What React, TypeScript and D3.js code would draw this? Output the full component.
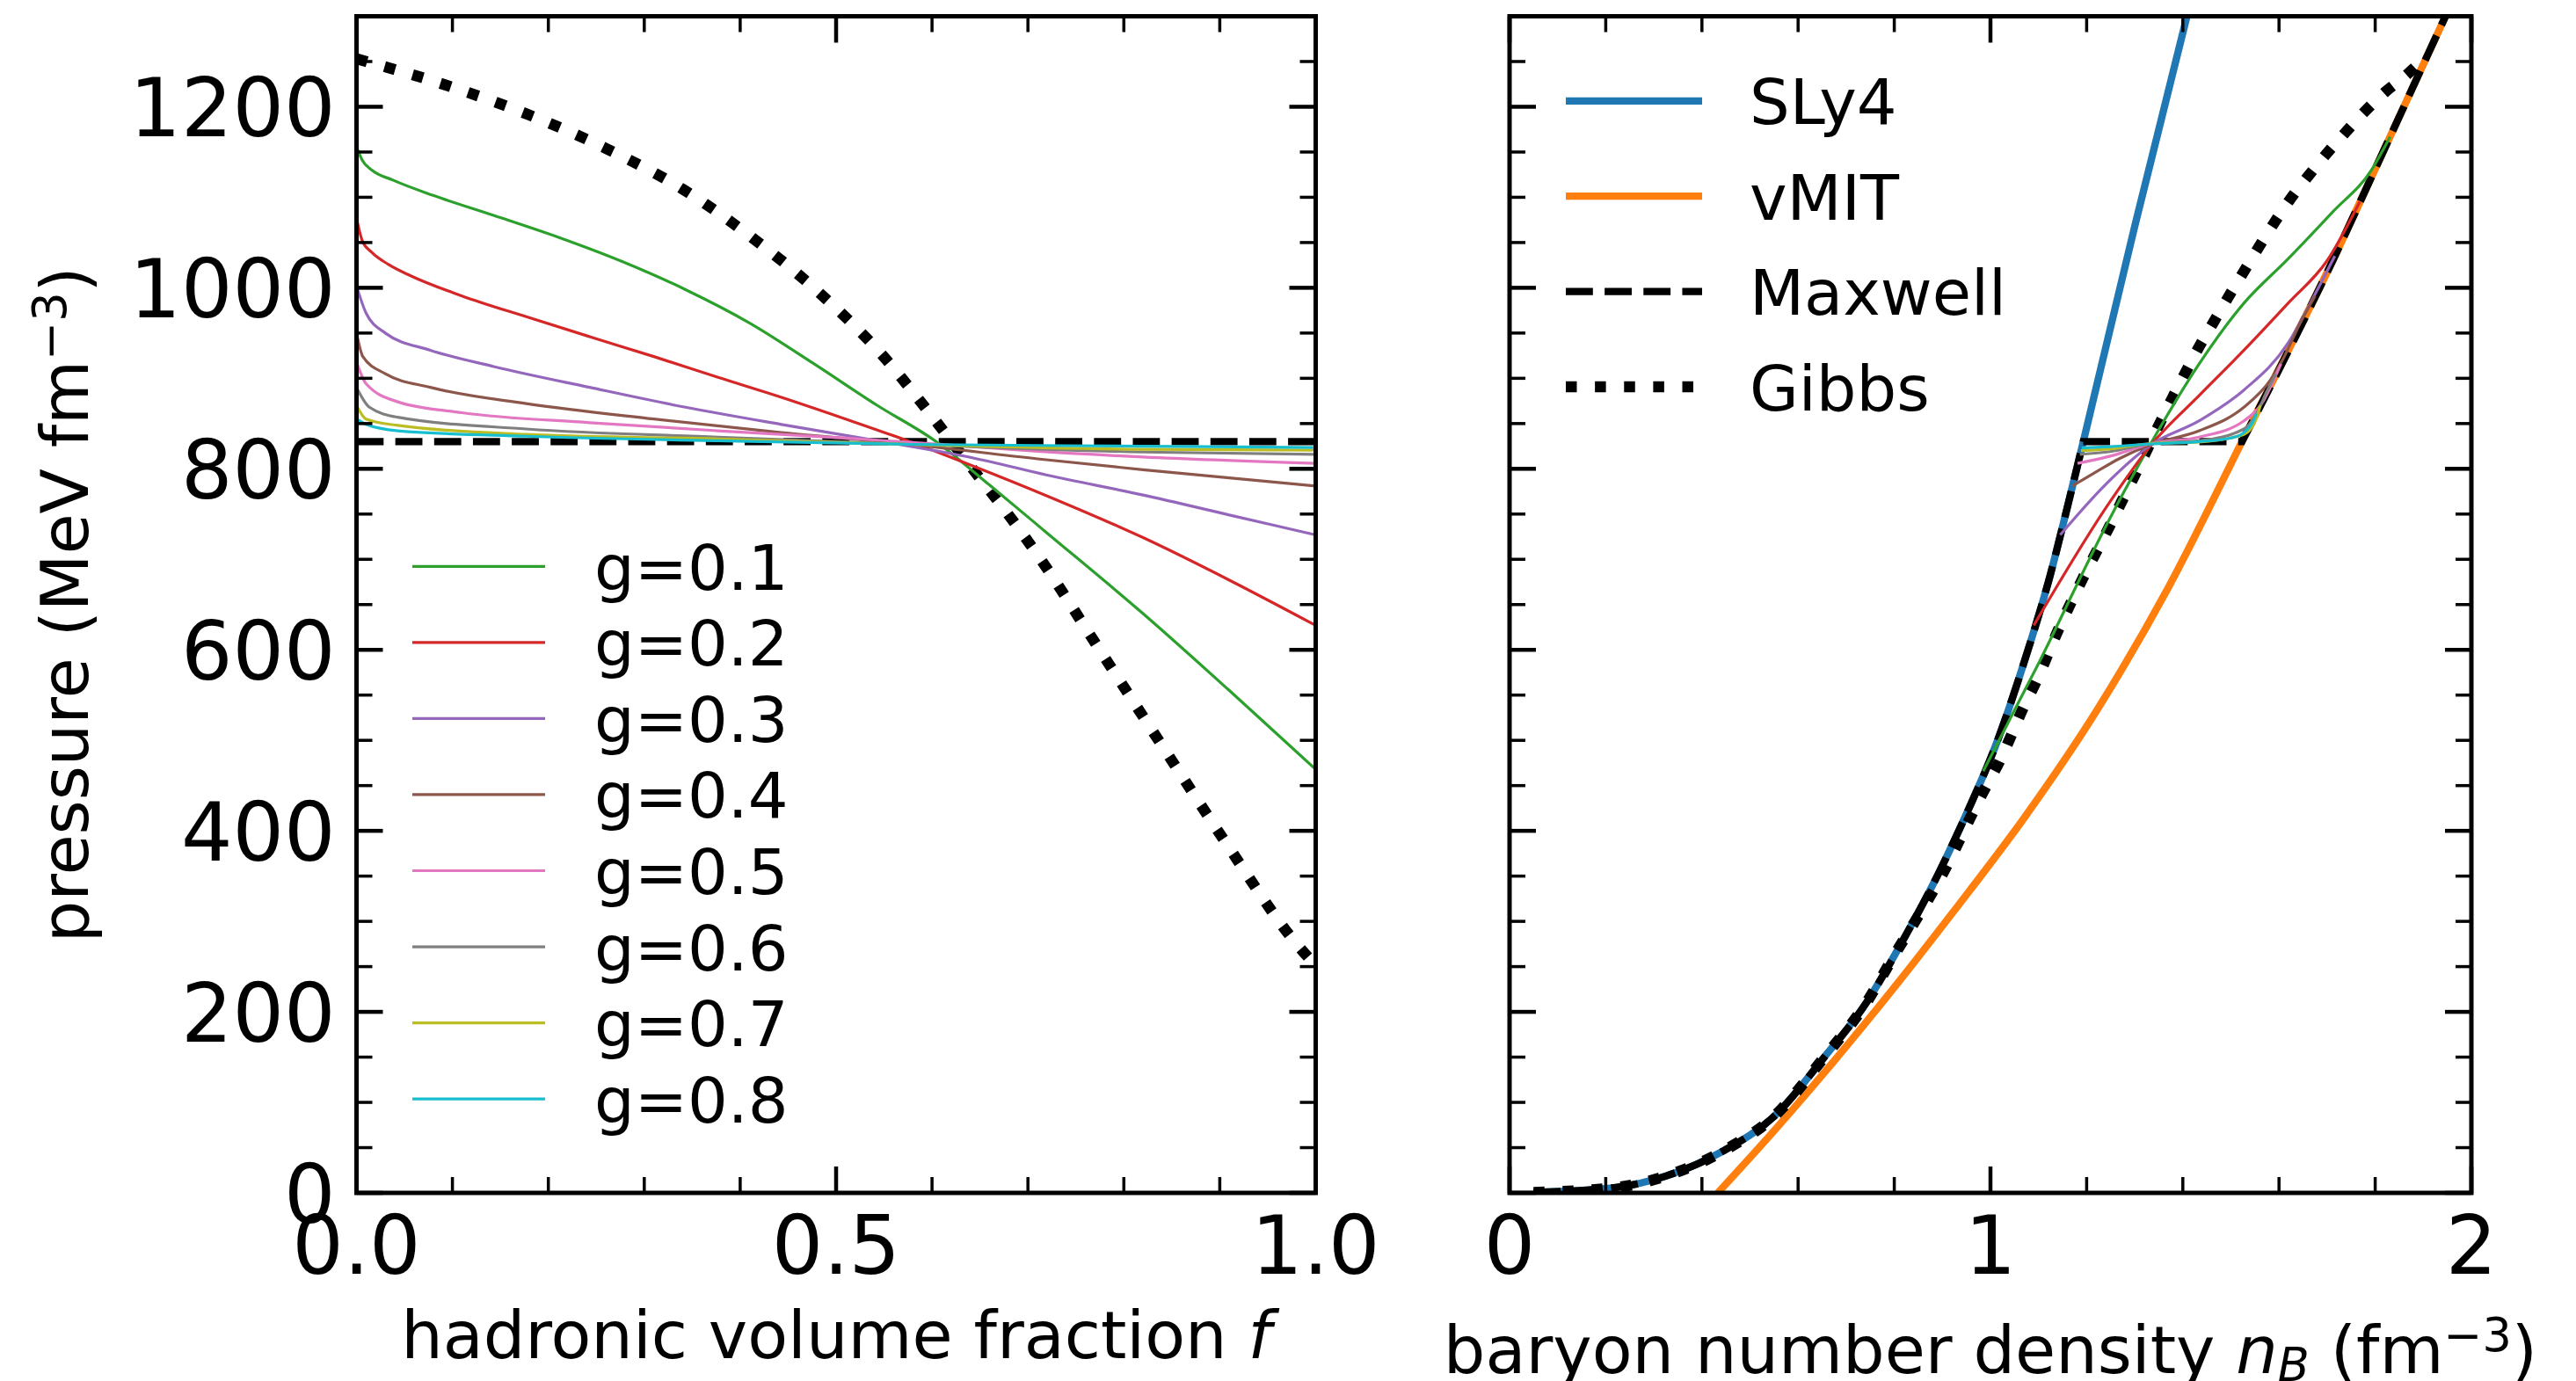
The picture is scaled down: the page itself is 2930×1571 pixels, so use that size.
import React from "react";
import * as d3 from "d3";

type Pt = [number, number];

// ---------- data: left panel (f, pressure) ----------
const gLabels = ["g=0.1", "g=0.2", "g=0.3", "g=0.4", "g=0.5", "g=0.6", "g=0.7", "g=0.8"];
const gColors = ["#2ca02c", "#d62728", "#9467bd", "#8c564b", "#e377c2", "#7f7f7f", "#bcbd22", "#17becf"];

const g1Left: Pt[] = [[0,1156],[0.006,1141],[0.016,1130],[0.038,1119],[0.08,1102],[0.143,1080],[0.21,1056],[0.277,1029],[0.343,998],[0.41,961],[0.477,916],[0.543,870],[0.603,831],[0.66,782],[0.72,729],[0.82,640],[0.91,555],[1,468]];
const g2Left: Pt[] = [[0,1077],[0.006,1052],[0.016,1039],[0.033,1026],[0.057,1013],[0.11,991],[0.177,968],[0.243,946],[0.31,924],[0.377,901],[0.443,879],[0.51,855],[0.577,830],[0.643,803],[0.72,770],[0.82,724],[0.91,677],[1,627]];
const g3Left: Pt[] = [[0,1002],[0.01,972],[0.03,950],[0.077,931],[0.143,913],[0.243,890],[0.343,868],[0.443,849],[0.543,831],[0.643,812],[0.72,793],[0.82,771],[0.91,749],[1,727]];
const g4Left: Pt[] = [[0,950],[0.0066,924],[0.03,905],[0.077,890],[0.177,872],[0.31,855],[0.443,840],[0.577,827],[0.71,811],[0.82,799],[1,781]];
const g5Left: Pt[] = [[0,918],[0.01,894],[0.043,874],[0.11,862],[0.243,851],[0.377,842],[0.51,834],[0.61,827],[0.7,820],[0.82,813],[1,806]];
const g6Left: Pt[] = [[0,890],[0.0135,868],[0.043,857],[0.177,844],[0.377,835],[0.577,827],[0.82,818.5],[1,816]];
const g7Left: Pt[] = [[0,870],[0.01,855],[0.043,848],[0.177,838],[0.377,833],[0.577,827],[0.82,821.5],[1,820.5]];
const g8Left: Pt[] = [[0,855],[0.01,849],[0.043,842],[0.177,836],[0.377,831],[0.577,827],[0.82,825],[1,823.5]];
const gibbsLeft: Pt[] = [[0,1253],[0.093,1224],[0.18,1191],[0.26,1154],[0.34,1109],[0.413,1055],[0.483,994],[0.547,927],[0.603,854],[0.64,803],[0.677,753],[0.71,705],[0.776,598],[0.843,489],[0.91,381],[0.977,279],[1,251]];
const maxwellPressure = 830;

// ---------- data: right panel (nB, pressure) ----------
const sly4: Pt[] = [[0.05,0.5],[0.221,6],[0.325,18.6],[0.445,46.5],[0.549,84],[0.653,149],[0.743,211],[0.818,279],[0.892,353],[0.952,421],[1.012,496],[1.071,588],[1.124,682],[1.161,760],[1.193,830],[1.30,1068],[1.409,1301],[1.42,1325]];
const vmit: Pt[] = [[0.433,0],[0.549,68],[0.669,142],[0.803,229],[0.922,310],[1.071,415],[1.221,533],[1.37,669],[1.523,830],[1.718,1037],[1.792,1122],[1.947,1301],[1.96,1316]];
const maxwellRange: Pt = [1.193, 1.523];
const gibbsSplit = 0.795;
const gibbsRightTail: Pt[] = [[0.795,258],[0.9,352],[0.982,440],[1.019,477],[1.071,539],[1.095,565],[1.141,622],[1.193,680],[1.249,738],[1.273,764],[1.301,794],[1.351,849],[1.378,878],[1.406,907],[1.434,935],[1.465,963],[1.496,991],[1.527,1018],[1.558,1045],[1.589,1071],[1.622,1097],[1.66,1123],[1.697,1147],[1.737,1171],[1.777,1194],[1.82,1216],[1.867,1236],[1.895,1250]];

const g1Right: Pt[] = [[0.985,466],[1.1,585],[1.249,746],[1.341,835],[1.434,916],[1.527,983],[1.619,1032],[1.712,1084],[1.792,1130],[1.831,1167]];
const g2Right: Pt[] = [[1.09,627],[1.249,764],[1.335,827],[1.434,881],[1.527,931],[1.619,983],[1.7,1030],[1.768,1095]];
const g3Right: Pt[] = [[1.145,727],[1.24,783],[1.335,827],[1.434,853],[1.527,887],[1.619,939],[1.669,987],[1.716,1035]];
const g4Right: Pt[] = [[1.17,781],[1.221,797],[1.267,811],[1.335,827],[1.434,842],[1.527,868],[1.582,898],[1.607,920],[1.644,961],[1.675,991]];
const g5Right: Pt[] = [[1.181,806],[1.249,814],[1.335,828],[1.434,835],[1.527,853],[1.564,872],[1.589,898],[1.604,916]];
const g6Right: Pt[] = [[1.186,816],[1.249,819],[1.335,828],[1.434,831],[1.527,844],[1.551,859],[1.576,887],[1.594,905]];
const g7Right: Pt[] = [[1.188,820],[1.249,822],[1.335,828],[1.434,829.5],[1.527,838],[1.551,853],[1.561,870]];
const g8Right: Pt[] = [[1.19,823],[1.249,824.5],[1.335,827.5],[1.434,830],[1.5,834],[1.527,840],[1.545,851],[1.553,861]];

const leftSeries = [g1Left, g2Left, g3Left, g4Left, g5Left, g6Left, g7Left, g8Left];
const rightSeries = [g1Right, g2Right, g3Right, g4Right, g5Right, g6Right, g7Right, g8Right];

const yTicks = [0, 200, 400, 600, 800, 1000, 1200];
const leftXTicks = [0, 0.5, 1.0];
const leftXTickLabels = ["0.0", "0.5", "1.0"];
const rightXTicks = [0, 1, 2];
const rightXTickLabels = ["0", "1", "2"];
const rightLegendLabels = ["SLy4", "vMIT", "Maxwell", "Gibbs"];

// ---------- layout ----------
const W = 2930, H = 1571;
const TOP = 18.5, BOTTOM = 1357;
const LEFT_AX: [number, number] = [405.5, 1496.5];
const RIGHT_AX: [number, number] = [1717, 2811];
const FONT = "DejaVu Sans";
const BLACK = "#000";
const MAJ = 30, MIN = 18;

const ys = d3.scaleLinear().domain([0, 1300]).range([BOTTOM, TOP]);
const xL = d3.scaleLinear().domain([0, 1]).range(LEFT_AX);
const xR = d3.scaleLinear().domain([0, 2]).range(RIGHT_AX);

function mkLine(xs: d3.ScaleLinear<number, number>) {
  return d3.line<Pt>().x(d => xs(d[0])).y(d => ys(d[1])).curve(d3.curveMonotoneX);
}

function Frame({ xs, xMajor, xMinorStep, xLabels, showY, id }: any) {
  const [x0, x1] = xs.range();
  const dom = xs.domain();
  const xMinor = d3.range(dom[0], dom[1] + 1e-9, xMinorStep).filter((v: number) => !xMajor.some((m: number) => Math.abs(m - v) < 1e-9));
  const yMinor = d3.range(0, 1301, 50).filter(v => v % 200 !== 0);
  const els: any[] = [];
  xMajor.forEach((v: number, i: number) => {
    const x = xs(v);
    els.push(<line key={`xb${i}`} x1={x} x2={x} y1={BOTTOM} y2={BOTTOM - MAJ} stroke={BLACK} strokeWidth={4.5} />);
    els.push(<line key={`xt${i}`} x1={x} x2={x} y1={TOP} y2={TOP + MAJ} stroke={BLACK} strokeWidth={4.5} />);
    els.push(<text key={`xl${i}`} x={x} y={1449} textAnchor="middle" fontSize={92} fontFamily={FONT}>{xLabels[i]}</text>);
  });
  xMinor.forEach((v: number, i: number) => {
    const x = xs(v);
    els.push(<line key={`xmb${i}`} x1={x} x2={x} y1={BOTTOM} y2={BOTTOM - MIN} stroke={BLACK} strokeWidth={3.5} />);
    els.push(<line key={`xmt${i}`} x1={x} x2={x} y1={TOP} y2={TOP + MIN} stroke={BLACK} strokeWidth={3.5} />);
  });
  yTicks.forEach((v, i) => {
    const y = ys(v);
    els.push(<line key={`yl${i}`} x1={x0} x2={x0 + MAJ} y1={y} y2={y} stroke={BLACK} strokeWidth={4.5} />);
    els.push(<line key={`yr${i}`} x1={x1} x2={x1 - MAJ} y1={y} y2={y} stroke={BLACK} strokeWidth={4.5} />);
    if (showY) els.push(<text key={`ylab${i}`} x={x0 - 24} y={y + 33.5} textAnchor="end" fontSize={92} fontFamily={FONT}>{v}</text>);
  });
  yMinor.forEach((v, i) => {
    const y = ys(v);
    els.push(<line key={`yml${i}`} x1={x0} x2={x0 + MIN} y1={y} y2={y} stroke={BLACK} strokeWidth={3.5} />);
    els.push(<line key={`ymr${i}`} x1={x1} x2={x1 - MIN} y1={y} y2={y} stroke={BLACK} strokeWidth={3.5} />);
  });
  els.push(<rect key="spine" x={x0} y={TOP} width={x1 - x0} height={BOTTOM - TOP} fill="none" stroke={BLACK} strokeWidth={5} />);
  return <g id={id}>{els}</g>;
}

export default function App() {
  const lineL = mkLine(xL);
  const lineR = mkLine(xR);

  // Maxwell construction: SLy4 up to transition, flat plateau, then vMIT (sharp corners)
  const maxwellLow: Pt[] = [...sly4.filter(d => d[0] < maxwellRange[0]), [maxwellRange[0], maxwellPressure]];
  const maxwellHigh: Pt[] = [[maxwellRange[1], maxwellPressure], ...vmit.filter(d => d[0] > maxwellRange[1])];
  const maxwellRightD =
    (lineR(maxwellLow) || "") +
    (lineR(maxwellHigh) || "").replace(/^M/, "L");

  const gibbsRight: Pt[] = [...sly4.filter(d => d[0] < gibbsSplit), ...gibbsRightTail];
  const maxwellLeft: Pt[] = [[0, maxwellPressure], [1, maxwellPressure]];

  const thin = 3.2, thick = 8.33, dotW = 12.5;
  const dashArr = `${3.7 * thick} ${1.6 * thick}`;
  const dotArr = `${dotW} ${1.65 * dotW}`;

  const leftLegY = (i: number) => 644.3 + i * 86.55;
  const rightLegY = (i: number) => 114.8 + i * 108.4;

  return (
    <svg width={W} height={H} style={{ position: "absolute", left: 0, top: 0, background: "#fff" }} xmlns="http://www.w3.org/2000/svg">
      <rect x={0} y={0} width={W} height={H} fill="#fff" />
      <defs>
        <clipPath id="clipL"><rect x={LEFT_AX[0]} y={TOP} width={LEFT_AX[1] - LEFT_AX[0]} height={BOTTOM - TOP} /></clipPath>
        <clipPath id="clipR"><rect x={RIGHT_AX[0]} y={TOP} width={RIGHT_AX[1] - RIGHT_AX[0]} height={BOTTOM - TOP} /></clipPath>
      </defs>

      {/* left panel */}
      <g clipPath="url(#clipL)">
        <path d={lineL(maxwellLeft) || ""} fill="none" stroke={BLACK} strokeWidth={thick} strokeDasharray={dashArr} />
        <path d={lineL(gibbsLeft) || ""} fill="none" stroke={BLACK} strokeWidth={dotW} strokeDasharray={dotArr} />
        {leftSeries.map((s, i) => (
          <path key={i} d={lineL(s) || ""} fill="none" stroke={gColors[i]} strokeWidth={thin} />
        ))}
      </g>
      <Frame xs={xL} xMajor={leftXTicks} xMinorStep={0.1} xLabels={leftXTickLabels} showY={true} id="axL" />

      {/* left legend */}
      {gLabels.map((lab, i) => (
        <g key={lab}>
          <line x1={469} x2={620} y1={leftLegY(i)} y2={leftLegY(i)} stroke={gColors[i]} strokeWidth={thin} />
          <text x={676} y={leftLegY(i) + 26.5} fontSize={72} fontFamily={FONT}>{lab}</text>
        </g>
      ))}

      {/* right panel */}
      <g clipPath="url(#clipR)">
        <path d={lineR(sly4) || ""} fill="none" stroke="#1f77b4" strokeWidth={thick} />
        <path d={lineR(vmit) || ""} fill="none" stroke="#ff7f0e" strokeWidth={thick} />
        <path d={maxwellRightD} fill="none" stroke={BLACK} strokeWidth={thick} strokeDasharray={dashArr} />
        <path d={lineR(gibbsRight) || ""} fill="none" stroke={BLACK} strokeWidth={dotW} strokeDasharray={dotArr} />
        {rightSeries.map((s, i) => (
          <path key={i} d={lineR(s) || ""} fill="none" stroke={gColors[i]} strokeWidth={thin} />
        ))}
      </g>
      <Frame xs={xR} xMajor={rightXTicks} xMinorStep={0.2} xLabels={rightXTickLabels} showY={false} id="axR" />

      {/* right legend */}
      {rightLegendLabels.map((lab, i) => {
        const y = rightLegY(i);
        const stroke = i === 0 ? "#1f77b4" : i === 1 ? "#ff7f0e" : BLACK;
        const sw = i === 3 ? dotW : thick;
        const da = i === 2 ? dashArr : i === 3 ? dotArr : undefined;
        return (
          <g key={lab}>
            <line x1={1781} x2={1936} y1={y} y2={y} stroke={stroke} strokeWidth={sw} strokeDasharray={da} />
            <text x={1990} y={y + 26.5} fontSize={72} fontFamily={FONT}>{lab}</text>
          </g>
        );
      })}

      {/* axis labels */}
      <text x={(LEFT_AX[0] + LEFT_AX[1]) / 2} y={1545} textAnchor="middle" fontSize={75} fontFamily={FONT}>
        hadronic volume fraction <tspan fontStyle="italic">f</tspan>
      </text>
      <text x={(RIGHT_AX[0] + RIGHT_AX[1]) / 2} y={1562} textAnchor="middle" fontSize={75} fontFamily={FONT}>
        baryon number density <tspan fontStyle="italic">n</tspan>
        <tspan fontStyle="italic" fontSize={52.5} dy={9}>B</tspan>
        <tspan dy={-9}> (fm</tspan>
        <tspan fontSize={52.5} dy={-25}>−3</tspan>
        <tspan dy={25}>)</tspan>
      </text>
      <text transform={`translate(100,${(TOP + BOTTOM) / 2}) rotate(-90)`} textAnchor="middle" fontSize={75} fontFamily={FONT}>
        pressure (MeV fm<tspan fontSize={52.5} dy={-25}>−3</tspan><tspan dy={25}>)</tspan>
      </text>
    </svg>
  );
}
